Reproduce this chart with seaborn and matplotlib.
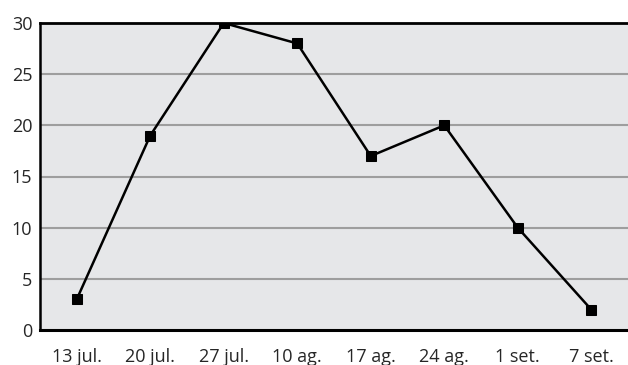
import matplotlib
matplotlib.use("Agg")
import matplotlib.pyplot as plt
import seaborn as sns
import pandas as pd
from matplotlib.ticker import FixedLocator

categories = ["13 jul.", "20 jul.", "27 jul.", "10 ag.", "17 ag.", "24 ag.", "1 set.", "7 set."]
values = [3, 19, 30, 28, 17, 20, 10, 2]
yticks = [0, 5, 10, 15, 20, 25, 30]

sns.set_style("white")
plt.rcParams['font.family'] = ['Open Sans', 'DejaVu Sans']

df = pd.DataFrame({"x": range(len(categories)), "y": values})

fig = plt.figure(figsize=(6.28, 3.65), dpi=100)
ax = fig.add_axes([40/628, 1-330/365, 1-40/628, (330-23)/365])
ax.set_facecolor("#e6e7e9")

sns.lineplot(data=df, x="x", y="y", ax=ax, color="black", linewidth=1.8,
             marker="s", markersize=7, markeredgecolor="black", markerfacecolor="black")

ax.set_xlim(-0.5, len(categories) - 0.5)
ax.set_ylim(0, 30)
ax.set_yticks(yticks)
ax.set_yticklabels([str(t) for t in yticks], fontsize=13)
for t in yticks[1:-1]:
    ax.axhline(t, color="#9e9e9e", linewidth=1.5, zorder=0.5)

ax.set_xticks(range(len(categories)))
ax.set_xticklabels(categories, fontsize=13)
ax.xaxis.set_minor_locator(FixedLocator([i + 0.5 for i in range(len(categories) - 1)]))
ax.tick_params(axis="x", which="major", length=0, pad=13)
ax.tick_params(axis="x", which="minor", direction="in", length=6, width=1.5, color="black")
ax.tick_params(axis="y", which="major", direction="in", length=7.5, width=1.5, color="black", pad=5.5)

ax.set_xlabel("")
ax.set_ylabel("")
for s in ["left", "bottom", "top"]:
    ax.spines[s].set_visible(True)
    ax.spines[s].set_color("black")
ax.spines["left"].set_linewidth(1.8)
ax.spines["bottom"].set_linewidth(2.2)
ax.spines["top"].set_linewidth(2.0)
ax.spines["right"].set_visible(False)

fig.savefig("out.png", dpi=100)
